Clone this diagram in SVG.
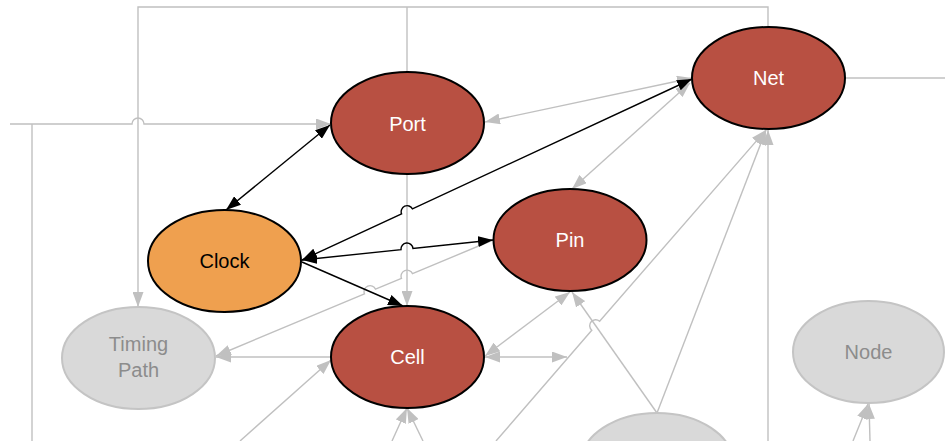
<svg xmlns="http://www.w3.org/2000/svg" width="945" height="441" viewBox="0 0 945 441">
<defs>
<style>
.g{fill:none;stroke:#c0c0c0;stroke-width:1.4}
.b{fill:none;stroke:#000;stroke-width:1.4}
.ga{marker-end:url(#ag)}
.gs{marker-start:url(#ag)}
.ba{marker-end:url(#ab)}
.bs{marker-start:url(#ab)}
.red{fill:#b85042;stroke:#000;stroke-width:2}
.org{fill:#efa04f;stroke:#000;stroke-width:2}
.gry{fill:#d9d9d9;stroke:#c4c4c4;stroke-width:2}
text{font-family:"Liberation Sans",Arial,sans-serif;font-size:20px;text-anchor:middle}
.tw{fill:#fff}
.tk{fill:#000}
.tg{fill:#8c8c8c}
</style>
<marker id="ag" viewBox="0 0 15 11" refX="15" refY="5.5" markerWidth="15" markerHeight="11" markerUnits="userSpaceOnUse" orient="auto-start-reverse"><path d="M0,0 L15,5.5 L0,11 z" fill="#c0c0c0"/></marker>
<marker id="ab" viewBox="0 0 15 11" refX="15" refY="5.5" markerWidth="15" markerHeight="11" markerUnits="userSpaceOnUse" orient="auto-start-reverse"><path d="M0,0 L15,5.5 L0,11 z" fill="#000"/></marker>
</defs>
<g id="connectors">
<path class="g ga" d="M768,27 V7 H138 V307"/>
<path class="g" d="M407,72 V7"/>
<path class="g ga" d="M10,124 H132 A6,6 0 0 1 144,124 H331"/>
<path class="g" d="M32,441 V124"/>
<path class="g ga" d="M407,174 V306"/>
<path class="g ga gs" d="M692,78 L485,122"/>
<path class="g ga gs" d="M690,83 L572,189"/>
<path class="g ga" d="M493,240 L412.53,273.69 A6,6 0 0 0 401.47,278.33 L375.53,289.19 A6,6 0 0 0 364.47,293.83 L216,356"/>
<path class="g ga" d="M331,357 L216,357"/>
<path class="g ga" d="M240,441 L331,360"/>
<path class="g ga" d="M392,441 L407,408"/>
<path class="g ga" d="M423,441 L407,408"/>
<path class="g ga gs" d="M570,292 L485,356"/>
<path class="g ga gs" d="M485,357 L567,357"/>
<path class="g ga" d="M657,413 L572,292"/>
<path class="g ga" d="M657,413 L766,130"/>
<path class="g ga" d="M496,441 L591.77,330.24 A6,6 0 0 1 599.63,321.16 L766,130"/>
<path class="g ga" d="M768,441 V130"/>
<path class="g" d="M845,78 H945"/>
<path class="g ga" d="M870,441 L869,404"/>
<path class="g ga" d="M853,441 L868,404"/>
<path class="b ba bs" d="M330,125 L226,210"/>
<path class="b ba bs" d="M302,260 L401.56,213.8 A6,6 0 0 1 412.44,208.8 L692,79"/>
<path class="b ba bs" d="M302,260 L401.03,249.62 A6,6 0 0 1 412.97,248.38 L493,240"/>
<path class="b ba" d="M302,262 L403,306"/>
</g>
<g id="port"><ellipse class="red" cx="407.5" cy="123" rx="76.5" ry="51"/><text class="tw" x="407.5" y="131">Port</text></g>
<g id="net"><ellipse class="red" cx="768.5" cy="78" rx="76.5" ry="51"/><text class="tw" x="768.5" y="85">Net</text></g>
<g id="pin"><ellipse class="red" cx="570" cy="240" rx="76.5" ry="51"/><text class="tw" x="570" y="247">Pin</text></g>
<g id="clock"><ellipse class="org" cx="224.5" cy="261" rx="76.5" ry="51"/><text class="tk" x="224.5" y="268">Clock</text></g>
<g id="cell"><ellipse class="red" cx="407.5" cy="357" rx="76.5" ry="51"/><text class="tw" x="407.5" y="364">Cell</text></g>
<g id="timingpath"><ellipse class="gry" cx="138.5" cy="358" rx="76.5" ry="51"/><text class="tg" x="138.5" y="351">Timing</text><text class="tg" x="138.5" y="377">Path</text></g>
<g id="node"><ellipse class="gry" cx="868.5" cy="352" rx="75.5" ry="51"/><text class="tg" x="868.5" y="359">Node</text></g>
<g id="bottomnode"><ellipse class="gry" cx="657" cy="464" rx="76.5" ry="51"/></g>
</svg>
